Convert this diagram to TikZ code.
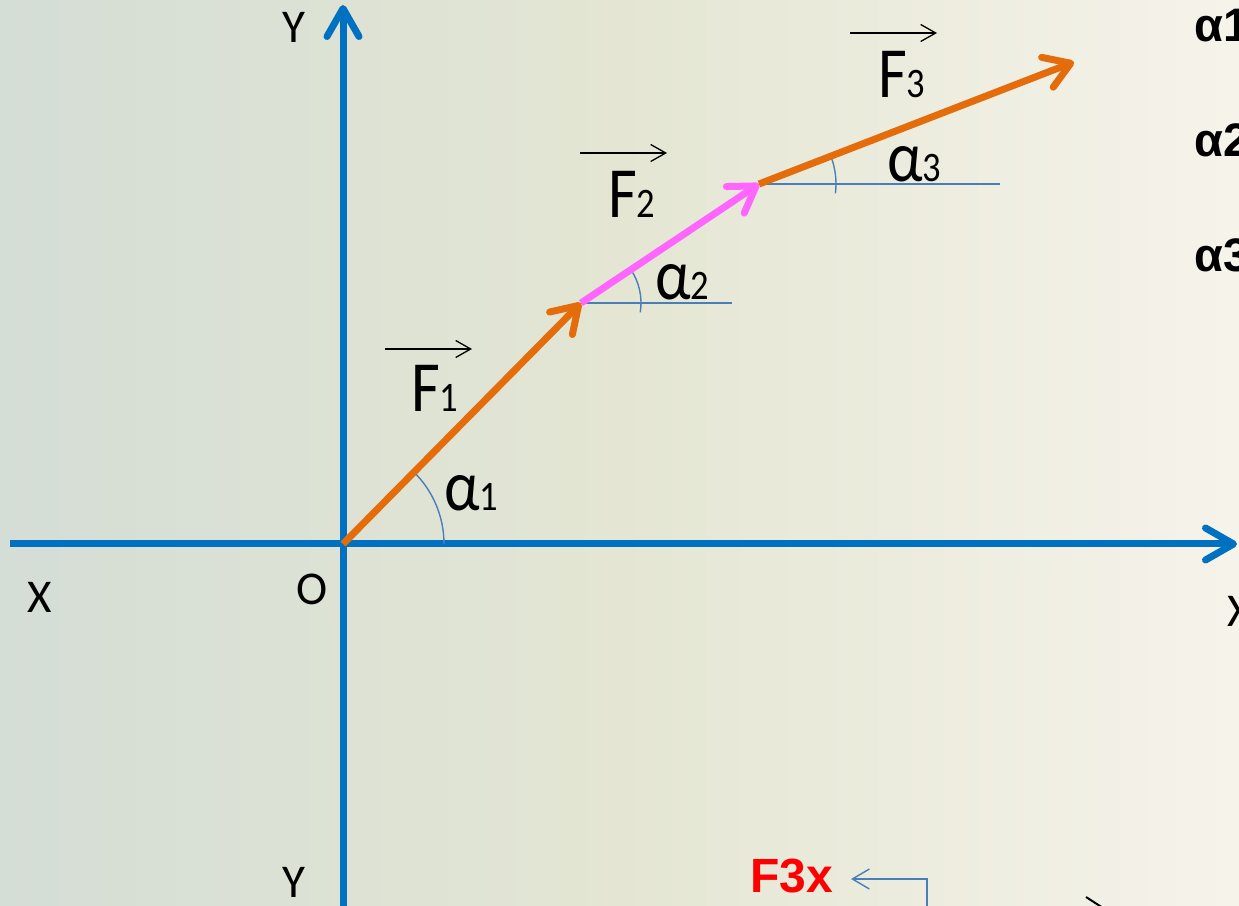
\documentclass[tikz,border=0pt]{standalone}
\usepackage{fontspec}
\setmainfont{Carlito}
\newfontfamily\lblfont[FakeStretch=0.87]{Carlito}
\newfontfamily\arialfont{Liberation Sans}
\usetikzlibrary{arrows.meta}
\definecolor{axisblue}{HTML}{0070C0}
\definecolor{vecorange}{HTML}{E46C0A}
\definecolor{vecmag}{HTML}{FF66FF}
\definecolor{thinblue}{HTML}{4A7EBB}
\definecolor{bgleft}{HTML}{D4DDD6}
\definecolor{bgmid}{HTML}{E4E6D3}
\definecolor{bgright}{HTML}{F6F3EB}
\definecolor{fred}{HTML}{FF0000}
\begin{document}
\begin{tikzpicture}[x=1pt,y=1pt,
  axisline/.style={draw=axisblue,line width=7pt,-{Straight Barb[length=28pt,width=32pt,round]}},
  vecline/.style={line width=7pt,-{Straight Barb[length=25pt,width=32pt,round]}},
  thinline/.style={draw=thinblue,line width=1.4pt},
  overarrow/.style={draw=black,line width=1.3pt,-{Straight Barb[length=15pt,width=17pt]}},
  veclabel/.style={inner sep=0pt,anchor=base west,font=\lblfont\fontsize{72}{72}\selectfont},
  axlabel/.style={inner sep=0pt,anchor=base west,font=\fontsize{47}{47}\selectfont},
  sidelabel/.style={inner sep=0pt,anchor=base west,font=\arialfont\bfseries\fontsize{47}{47}\selectfont}
]
\newcommand{\sbs}[1]{{\fontsize{42}{42}\selectfont #1}}
\useasboundingbox (0,0) rectangle (1239,905);
\shade[left color=bgleft,right color=bgright,middle color=bgmid] (0,0) rectangle (1239,905);

% coordinates
\coordinate (O) at (343,361);
\coordinate (xl) at (10,361);
\coordinate (xr) at (1237,361);
\coordinate (yb) at (343,-5);
\coordinate (yt) at (343,900);
\coordinate (A) at (581,602);
\coordinate (B) at (759,721);
\coordinate (C) at (1074,843);
\coordinate (A2) at (732,602);
\coordinate (B2) at (1000,721);

% axes
\draw[axisline] (xl) -- (xr);
\draw[axisline] (yb) -- (yt);

% horizontal reference lines
\draw[thinline] (A) -- (A2);
\draw[thinline] (B) -- (B2);

% angle arcs
\draw[thinline] (O) ++(0:101) arc[start angle=0,end angle=46,radius=101];
\draw[thinline] (A) ++(-9:60) arc[start angle=-9,end angle=34,radius=60];
\draw[thinline] (B) ++(-7:77) arc[start angle=-7,end angle=21,radius=77];

% vectors
\draw[vecline,draw=vecorange] (O) -- (A);
\draw[vecline,draw=vecmag] (A) -- (B);
\draw[vecline,draw=vecorange] (B) -- (C);

% vector labels
\coordinate (f1a) at (385,556); \coordinate (f1b) at (472,556);
\coordinate (f2a) at (580,752); \coordinate (f2b) at (667,752);
\coordinate (f3a) at (850,872); \coordinate (f3b) at (937,872);
\draw[overarrow] (f1a) -- (f1b);
\draw[overarrow] (f2a) -- (f2b);
\draw[overarrow] (f3a) -- (f3b);
\node[veclabel] (F1) at (411,493) {F\sbs{1}};
\node[veclabel] (F2) at (608,687) {F\sbs{2}};
\node[veclabel] (F3) at (878,807) {F\sbs{3}};
\node[veclabel] (a1) at (444,394) {α\sbs{1}};
\node[veclabel] (a2) at (655,605) {α\sbs{2}};
\node[veclabel] (a3) at (887,723) {α\sbs{3}};

% axis labels
\node[axlabel] (Ytop) at (282,862) {Y};
\node[axlabel] (Ybot) at (282,8) {Y};
\node[axlabel] (Xl) at (27,292) {X};
\node[axlabel] (Ol) at (296,300) {O};
\node[axlabel] (Xr) at (1227,278) {X};

% side labels
\node[sidelabel] (s1) at (1194,863) {α1};
\node[sidelabel] (s2) at (1194,748) {α2};
\node[sidelabel] (s3) at (1194,633) {α3};

% bottom
\node[inner sep=0pt,anchor=base west,text=fred,font=\arialfont\bfseries\fontsize{48}{48}\selectfont] (F3x) at (750,13) {F3x};
\coordinate (p1) at (927,-5);
\coordinate (p2) at (927,26);
\coordinate (p3) at (851,26);
\draw[thinline,-{Straight Barb[length=17pt,width=20pt]}] (p1) -- (p2) -- (p3);
\coordinate (k1) at (1086,8);
\coordinate (k2) at (1103,-3);
\draw[black,line width=2pt] (k1) -- (k2);
\end{tikzpicture}
\end{document}
